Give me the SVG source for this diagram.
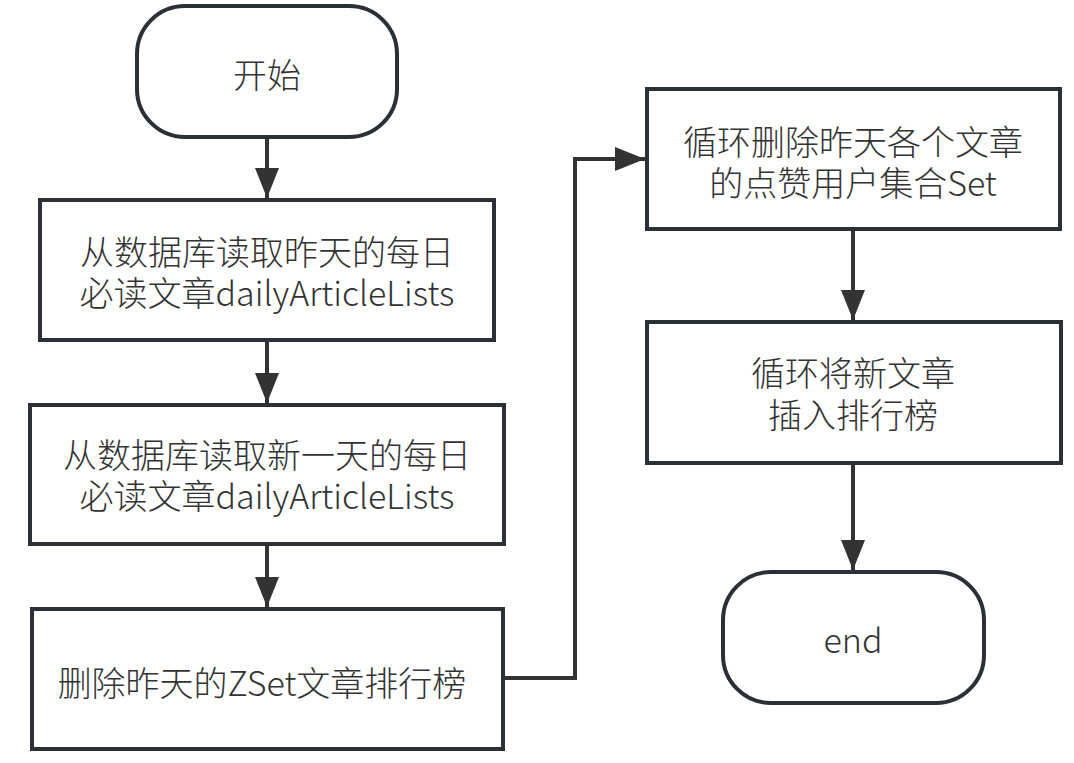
<svg xmlns="http://www.w3.org/2000/svg" width="1074" height="763" viewBox="0 0 1074 763">
<style>
.shape{fill:#ffffff;stroke:#2a3036;stroke-width:4}
.lbl{font-family:"Noto Sans CJK SC","Microsoft YaHei",sans-serif;font-size:34px;font-weight:300;fill:#333333;text-anchor:middle}
.edge{fill:none;stroke:#333333;stroke-width:4}
</style>
<defs>
<marker id="arr" markerUnits="userSpaceOnUse" markerWidth="32" markerHeight="24" refX="30" refY="12" orient="auto">
<path d="M0,0 L30,12 L0,24 Z" fill="#333333"/>
</marker>
</defs>
<rect width="1074" height="763" fill="#ffffff"/>
<g id="connectors">
<path class="edge" d="M267,137 V198" marker-end="url(#arr)"/>
<path class="edge" d="M267,340 V403" marker-end="url(#arr)"/>
<path class="edge" d="M267,544 V607" marker-end="url(#arr)"/>
<path class="edge" d="M503,678 H575 V159 H645" marker-end="url(#arr)"/>
<path class="edge" d="M853,229 V320" marker-end="url(#arr)"/>
<path class="edge" d="M853,463 V570" marker-end="url(#arr)"/>
</g>
<g id="start">
<rect class="shape" x="137" y="6" width="260" height="131" rx="48" ry="48"/>
<text class="lbl" x="267" y="88">开始</text>
</g>
<g id="read-yesterday">
<rect class="shape" x="40" y="200" width="454" height="140"/>
<text class="lbl"><tspan x="267" y="265">从数据库读取昨天的每日</tspan><tspan x="267" y="306">必读文章dailyArticleLists</tspan></text>
</g>
<g id="read-newday">
<rect class="shape" x="30" y="405" width="474" height="139"/>
<text class="lbl"><tspan x="267" y="468">从数据库读取新一天的每日</tspan><tspan x="267" y="509">必读文章dailyArticleLists</tspan></text>
</g>
<g id="delete-zset">
<rect class="shape" x="32" y="609" width="471" height="140"/>
<text class="lbl" x="262" y="696">删除昨天的ZSet文章排行榜</text>
</g>
<g id="delete-likes">
<rect class="shape" x="647" y="89" width="413" height="140"/>
<text class="lbl"><tspan x="853" y="155">循环删除昨天各个文章</tspan><tspan x="853" y="196">的点赞用户集合Set</tspan></text>
</g>
<g id="insert-rank">
<rect class="shape" x="647" y="322" width="414" height="141"/>
<text class="lbl"><tspan x="853" y="386">循环将新文章</tspan><tspan x="853" y="428">插入排行榜</tspan></text>
</g>
<g id="end">
<rect class="shape" x="723" y="572" width="261" height="131" rx="48" ry="48"/>
<text class="lbl" x="853" y="653">end</text>
</g>
</svg>
